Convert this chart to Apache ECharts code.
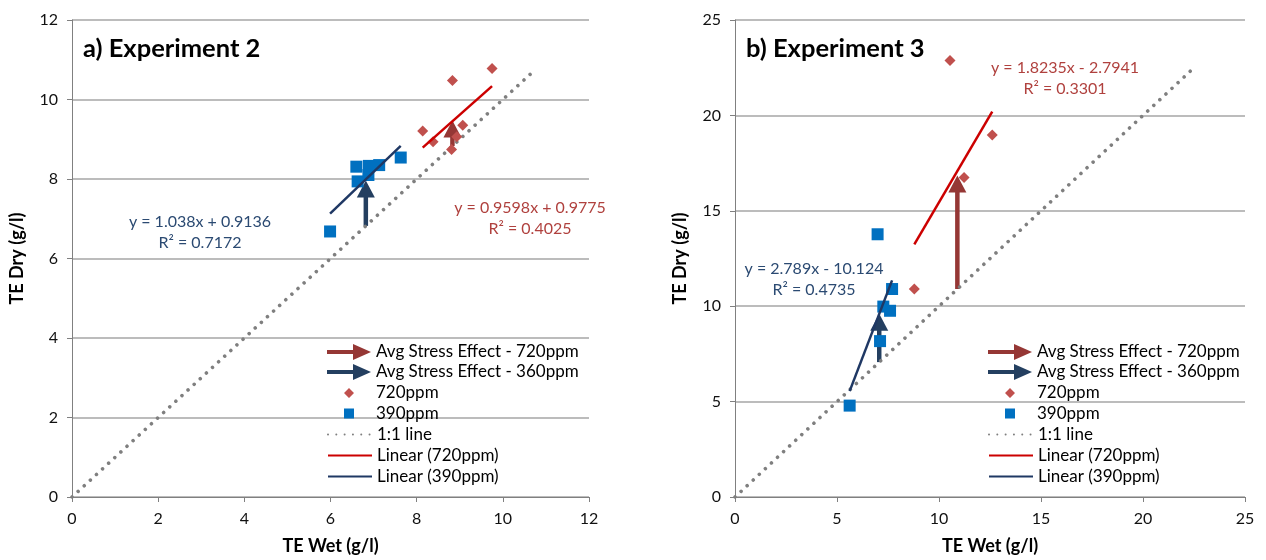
<!DOCTYPE html>
<html>
<head>
<meta charset="utf-8">
<title>TE Wet vs TE Dry</title>
<script src="https://cdn.jsdelivr.net/npm/echarts@6/dist/echarts.min.js"></script>
<style>
  html, body { margin: 0; padding: 0; background: #fff; }
  #chart { width: 1266px; height: 560px; }
</style>
</head>
<body>
<div id="chart"></div>
<script>
// ---- Experiment 2: [TE wet, TE dry] in g/l ----
const exp2_390 = [[5.99, 6.68], [6.60, 8.31], [6.63, 7.94], [6.88, 8.10], [6.89, 8.33], [7.13, 8.35], [7.63, 8.54]];
const exp2_720 = [[8.14, 9.21], [8.38, 8.94], [8.81, 8.74], [8.83, 10.48], [8.93, 9.06], [9.07, 9.35], [9.75, 10.78]];
// average stress effect: [mean wet, mean dry]
const exp2_stress720 = [8.83, 9.47];
const exp2_stress360 = [6.82, 7.96];
// linear fits: [slope, intercept, R²]
const exp2_fit720 = [0.9598, 0.9775, 0.4025];
const exp2_fit390 = [1.038, 0.9136, 0.7172];
const exp2_oneToOneMax = 10.7;

// ---- Experiment 3 ----
const exp3_390 = [[5.62, 4.79], [6.99, 13.77], [7.11, 8.17], [7.27, 9.98], [7.60, 9.76], [7.70, 10.90]];
const exp3_720 = [[8.79, 10.90], [10.54, 22.88], [11.23, 16.75], [12.61, 18.97]];
const exp3_stress720 = [10.90, 16.85];
const exp3_stress360 = [7.07, 9.60];
const exp3_fit720 = [1.8235, -2.7941, 0.3301];
const exp3_fit390 = [2.789, -10.124, 0.4735];
const exp3_oneToOneMax = 22.6;

// axis ticks
const exp2_ticks = { min: 0, max: 12, interval: 2 };
const exp3_ticks = { min: 0, max: 25, interval: 5 };

const names = {
  stress720: 'Avg Stress Effect - 720ppm',
  stress360: 'Avg Stress Effect - 360ppm',
  pts720: '720ppm',
  pts390: '390ppm',
  oneToOne: '1:1 line',
  lin720: 'Linear (720ppm)',
  lin390: 'Linear (390ppm)'
};

const FONT = 'Lato, "Liberation Sans", sans-serif';
const C = {
  diamond: '#C0504D',
  square: '#0070C0',
  trendRed: '#CC0000',
  trendBlue: '#1F3864',
  arrowRed: '#953735',
  arrowBlue: '#243F60',
  grey: '#7F7F7F',
  axis: '#808080',
  grid: '#A6A6A6',
  eqRed: '#B0413E',
  eqBlue: '#2B4A72'
};

// line from a fit, spanning the x-range of its points
function fitLine(points, fit) {
  const xs = points.map(p => p[0]);
  const x0 = Math.min(...xs), x1 = Math.max(...xs);
  return [[x0, fit[0] * x0 + fit[1]], [x1, fit[0] * x1 + fit[1]]];
}

function fmtEq(fit) {
  const sign = fit[1] < 0 ? ' - ' : ' + ';
  return 'y = ' + fit[0] + 'x' + sign + Math.abs(fit[1]);
}

// vertical arrow from the 1:1 line up to the mean point
function arrowRender(color) {
  return function (params, api) {
    const x = api.value(0), yTip = api.value(1);
    const base = api.coord([x, x]);
    const tip = api.coord([x, yTip]);
    const dx = tip[0] - base[0], dy = tip[1] - base[1];
    const len = Math.sqrt(dx * dx + dy * dy) || 1;
    const ux = dx / len, uy = dy / len;
    const headL = 17, headW = 18;
    const neck = [tip[0] - ux * headL, tip[1] - uy * headL];
    const px = -uy, py = ux;
    return {
      type: 'group',
      children: [
        { type: 'line',
          shape: { x1: base[0], y1: base[1], x2: neck[0] + ux * 2, y2: neck[1] + uy * 2 },
          style: { stroke: color, lineWidth: 4.5 } },
        { type: 'polygon',
          shape: { points: [tip,
            [neck[0] + px * headW / 2, neck[1] + py * headW / 2],
            [neck[0] - px * headW / 2, neck[1] - py * headW / 2]] },
          style: { fill: color } }
      ]
    };
  };
}

function seriesFor(idx, d) {
  const ax = { xAxisIndex: idx, yAxisIndex: idx };
  return [
    Object.assign({ type: 'custom', name: names.stress720, renderItem: arrowRender(C.arrowRed),
      data: [d.stress720], encode: { x: 0, y: 1 }, itemStyle: { color: C.arrowRed }, z: 2, silent: true }, ax),
    Object.assign({ type: 'custom', name: names.stress360, renderItem: arrowRender(C.arrowBlue),
      data: [d.stress360], encode: { x: 0, y: 1 }, itemStyle: { color: C.arrowBlue }, z: 2, silent: true }, ax),
    Object.assign({ type: 'line', name: names.oneToOne, data: [[0, 0], [d.oneMax, d.oneMax]],
      symbol: 'none', z: 3,
      lineStyle: { color: C.grey, width: 3.6, type: [0.01, 8.3], cap: 'round' },
      itemStyle: { color: C.grey } }, ax),
    Object.assign({ type: 'scatter', name: names.pts720, data: d.pts720, symbol: 'diamond',
      symbolSize: 11, itemStyle: { color: C.diamond, opacity: 1 }, z: 4 }, ax),
    Object.assign({ type: 'scatter', name: names.pts390, data: d.pts390, symbol: 'rect',
      symbolSize: 12, itemStyle: { color: C.square, opacity: 1 }, z: 4 }, ax),
    Object.assign({ type: 'line', name: names.lin720, data: fitLine(d.pts720, d.fit720),
      symbol: 'none', z: 5, lineStyle: { color: C.trendRed, width: 2.5 }, itemStyle: { color: C.trendRed } }, ax),
    Object.assign({ type: 'line', name: names.lin390, data: fitLine(d.pts390, d.fit390),
      symbol: 'none', z: 5, lineStyle: { color: C.trendBlue, width: 2.5 }, itemStyle: { color: C.trendBlue } }, ax)
  ];
}

function xAxisFor(idx, t) {
  return {
    type: 'value', gridIndex: idx, min: t.min, max: t.max, interval: t.interval,
    name: 'TE Wet (g/l)', nameLocation: 'middle', nameGap: 40,
    nameTextStyle: { fontFamily: FONT, fontSize: 18, fontWeight: 'bold', color: '#000' },
    axisLine: { show: true, lineStyle: { color: C.axis, width: 1 } },
    axisTick: { show: true, inside: false, length: 5, lineStyle: { color: C.axis } },
    axisLabel: { fontFamily: FONT, fontSize: 16, color: '#111', margin: 14 },
    splitLine: { show: false }
  };
}
function yAxisFor(idx, t) {
  return {
    type: 'value', gridIndex: idx, min: t.min, max: t.max, interval: t.interval,
    name: 'TE Dry (g/l)', nameLocation: 'middle', nameGap: 46,
    nameTextStyle: { fontFamily: FONT, fontSize: 18, fontWeight: 'bold', color: '#000' },
    axisLine: { show: true, lineStyle: { color: C.axis, width: 1 } },
    axisTick: { show: true, inside: false, length: 5, lineStyle: { color: C.axis } },
    axisLabel: { fontFamily: FONT, fontSize: 16, color: '#111', margin: 14 },
    splitLine: { show: true, lineStyle: { color: C.grid, width: 1.5 } }
  };
}

// legend icons (44 px wide slots; end anchors keep the slot width)
const slot = ' M0,5 L0.01,5 M44,5 L43.99,5';
const arrowIcon = 'path://M0,6 L26,6 L26,0 L44,8 L26,16 L26,10 L0,10 Z';
const diamondIcon = 'path://M22,0 L27,5 L22,10 L17,5 Z' + slot;
const squareIcon = 'path://M17,0 L27,0 L27,10 L17,10 Z' + slot;
const noMarker = { opacity: 0 };
const legendText = { fontFamily: FONT, fontSize: 17, color: '#000', lineHeight: 18 };

function legendsAt(left) {
  const common = { left: left, orient: 'vertical', padding: 0, itemWidth: 44,
    textStyle: legendText, selectedMode: false };
  return [
    Object.assign({ top: 343, itemHeight: 16, itemGap: 2,
      data: [{ name: names.stress720, icon: arrowIcon }, { name: names.stress360, icon: arrowIcon }] }, common),
    Object.assign({ top: 384, itemHeight: 10, itemGap: 2.5,
      data: [{ name: names.pts720, icon: diamondIcon }, { name: names.pts390, icon: squareIcon }] }, common),
    Object.assign({ top: 425.5, itemHeight: 14, itemGap: 3,
      data: [{ name: names.oneToOne, itemStyle: noMarker },
             { name: names.lin720, itemStyle: noMarker },
             { name: names.lin390, itemStyle: noMarker }] }, common)
  ];
}

function eqText(cx, cy, fit, color) {
  return [
    { type: 'text', x: cx, y: cy, style: { text: fmtEq(fit), fill: color, font: '16px ' + FONT,
      textAlign: 'center', textVerticalAlign: 'middle' } },
    { type: 'text', x: cx, y: cy + 21, style: { text: 'R² = ' + fit[2], fill: color, font: '16px ' + FONT,
      textAlign: 'center', textVerticalAlign: 'middle' } }
  ];
}

const chart = echarts.init(document.getElementById('chart'), null, { renderer: 'canvas' });
chart.setOption({
  animation: false,
  backgroundColor: '#fff',
  title: [
    { text: 'a) Experiment 2', left: 78, top: 31,
      textStyle: { fontFamily: FONT, fontSize: 25.5, fontWeight: 'bold', color: '#000' } },
    { text: 'b) Experiment 3', left: 741, top: 31,
      textStyle: { fontFamily: FONT, fontSize: 25.5, fontWeight: 'bold', color: '#000' } }
  ],
  grid: [
    { left: 72, top: 20, width: 517, height: 479 },
    { left: 735, top: 20, width: 510, height: 480 }
  ],
  xAxis: [xAxisFor(0, exp2_ticks), xAxisFor(1, exp3_ticks)],
  yAxis: [yAxisFor(0, exp2_ticks), yAxisFor(1, exp3_ticks)],
  legend: legendsAt(327).concat(legendsAt(988)),
  graphic: [].concat(
    eqText(200, 222, exp2_fit390, C.eqBlue),
    eqText(530, 208, exp2_fit720, C.eqRed),
    eqText(1065, 68, exp3_fit720, C.eqRed),
    eqText(814, 269, exp3_fit390, C.eqBlue)
  ),
  series: seriesFor(0, {
    stress720: exp2_stress720, stress360: exp2_stress360, oneMax: exp2_oneToOneMax,
    pts720: exp2_720, pts390: exp2_390, fit720: exp2_fit720, fit390: exp2_fit390
  }).concat(seriesFor(1, {
    stress720: exp3_stress720, stress360: exp3_stress360, oneMax: exp3_oneToOneMax,
    pts720: exp3_720, pts390: exp3_390, fit720: exp3_fit720, fit390: exp3_fit390
  }))
});
</script>
</body>
</html>
